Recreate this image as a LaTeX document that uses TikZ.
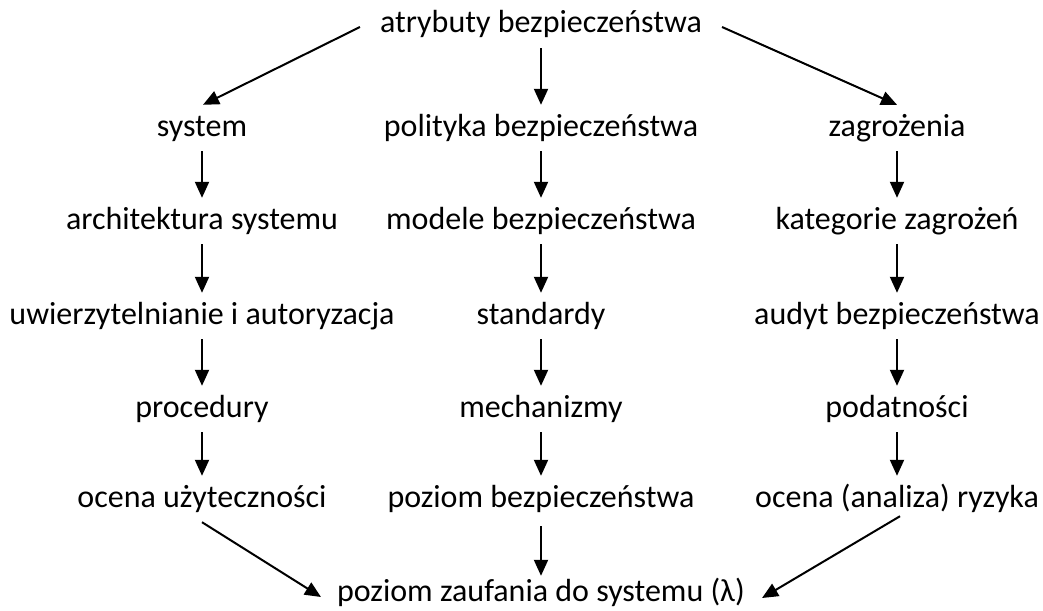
\documentclass[tikz,border=0pt]{standalone}
\usepackage{fontspec}
\setmainfont{Carlito}
\usetikzlibrary{arrows.meta,calc}
\begin{document}
\begin{tikzpicture}[x=1pt,y=-1pt,
  lbl/.style={font=\fontsize{32}{38}\selectfont, inner sep=0pt, text height=21pt, text depth=7pt, anchor=center},
  arr/.style={line width=2pt, -{Triangle[length=16pt,width=14pt]}},
  vert/.style={arr, shorten <=8pt, shorten >=10pt},
]
\useasboundingbox (0,0) rectangle (1043,610);

\node[lbl] (top) at (541,26) {atrybuty bezpieczeństwa};
\node[lbl] (sys) at (202,129) {system};
\node[lbl] (pol) at (541,129) {polityka bezpieczeństwa};
\node[lbl] (zag) at (897,129) {zagrożenia};
\node[lbl] (arch) at (202,222) {architektura systemu};
\node[lbl] (mod) at (541,222) {modele bezpieczeństwa};
\node[lbl] (kat) at (897,222) {kategorie zagrożeń};
\node[lbl] (uwi) at (202,317) {uwierzytelnianie i autoryzacja};
\node[lbl] (std) at (541,317) {standardy};
\node[lbl] (aud) at (897,317) {audyt bezpieczeństwa};
\node[lbl] (proc) at (202,410) {procedury};
\node[lbl] (mech) at (541,410) {mechanizmy};
\node[lbl] (pod) at (897,410) {podatności};
\node[lbl] (ocu) at (202,500) {ocena użyteczności};
\node[lbl] (poz) at (541,500) {poziom bezpieczeństwa};
\node[lbl] (ocr) at (897,500) {ocena (analiza) ryzyka};
\node[lbl] (zauf) at (541,594) {poziom zaufania do systemu (λ)};

% top
\draw[arr] ($(top.west)+(-20,1)$) -- ($(sys.north)+(1,-10)$);
\draw[vert] (top) -- (pol);
\draw[arr] ($(top.east)+(20,1)$) -- ($(zag.north)+(0,-10)$);

% columns
\foreach \a/\b in {sys/arch, arch/uwi, uwi/proc, proc/ocu,
                   pol/mod, mod/std, std/mech, mech/poz,
                   zag/kat, kat/aud, aud/pod, pod/ocr}
  \draw[vert] (\a) -- (\b);

% bottom
\draw[arr] ($(ocu.south)+(0,8)$) -- ($(zauf.west)+(-16,3)$);
\draw[arr, shorten <=12pt, shorten >=4pt] (poz) -- (zauf);
\draw[arr] ($(ocr.south)+(3,2)$) -- ($(zauf.east)+(17,4)$);
\end{tikzpicture}
\end{document}
